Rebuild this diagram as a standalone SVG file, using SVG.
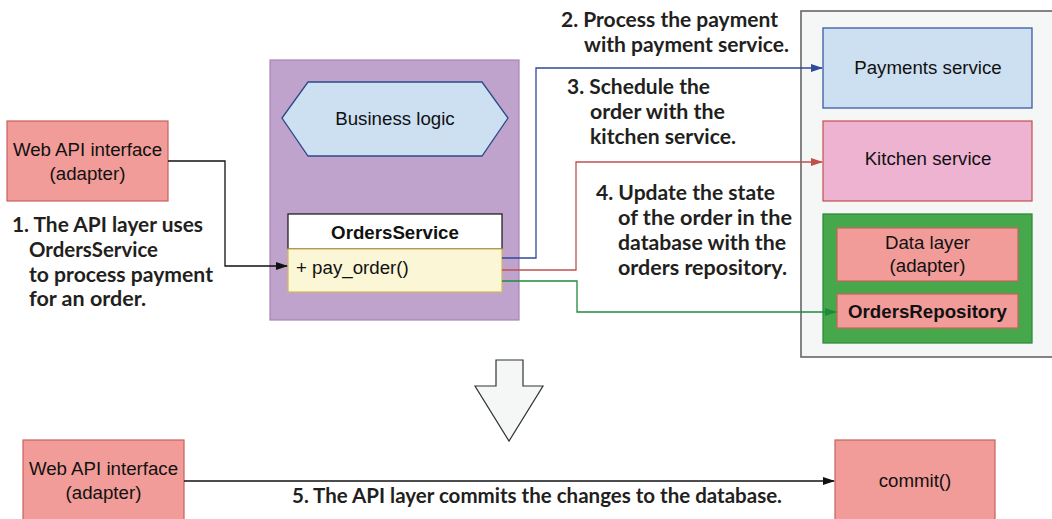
<svg xmlns="http://www.w3.org/2000/svg" width="1052" height="519" viewBox="0 0 1052 519">
<style>
.node{font-family:"Liberation Sans",Arial,sans-serif;font-size:18.7px;fill:#111;text-anchor:middle;dominant-baseline:central}
.b{font-weight:bold}
.lbl{font-family:Lato,"Liberation Sans",sans-serif;font-weight:bold;font-size:21px;fill:#231f20}
.red{fill:#f19c99;stroke:#c8625d;stroke-width:1.2}
.conn{fill:none;stroke-width:1.3}
</style>
<defs>
<marker id="ak" markerWidth="12" markerHeight="8" refX="11" refY="4" orient="auto" markerUnits="userSpaceOnUse"><path d="M0,0 L12,4 L0,8 Z" fill="#111"/></marker>
<marker id="ab" markerWidth="12" markerHeight="8" refX="11" refY="4" orient="auto" markerUnits="userSpaceOnUse"><path d="M0,0 L12,4 L0,8 Z" fill="#2e4a9a"/></marker>
<marker id="ar" markerWidth="12" markerHeight="8" refX="11" refY="4" orient="auto" markerUnits="userSpaceOnUse"><path d="M0,0 L12,4 L0,8 Z" fill="#c0504d"/></marker>
<marker id="ag" markerWidth="12" markerHeight="8" refX="11" refY="4" orient="auto" markerUnits="userSpaceOnUse"><path d="M0,0 L12,4 L0,8 Z" fill="#1f8a3c"/></marker>
</defs>

<g id="panel-right">
<rect x="801" y="11" width="262" height="346" fill="#f5f6f6" stroke="#666" stroke-width="1.6"/>
</g>

<g id="web-api-top">
<rect class="red" x="7" y="121" width="161" height="80"/>
<text class="node" x="87.5" y="149">Web API interface</text>
<text class="node" x="87.5" y="173">(adapter)</text>
</g>

<g id="business-container">
<rect x="270" y="60" width="249" height="260" fill="#c0a3cc" stroke="#a585b5" stroke-width="1.2"/>
</g>

<g id="business-logic">
<polygon points="282,118 308,82 482,82 508,118 482,156 308,156" fill="#cce0f1" stroke="#2e4a8a" stroke-width="1.3"/>
<text class="node" x="395" y="118">Business logic</text>
</g>

<g id="orders-service">
<rect x="288" y="214" width="214" height="35" fill="#fff" stroke="#111" stroke-width="1.2"/>
<text class="node b" x="395" y="232">OrdersService</text>
<rect x="288" y="249" width="214" height="43" fill="#faf6d6" stroke="#d6b656" stroke-width="1.2"/>
<text class="node" x="296" y="267" style="text-anchor:start">+ pay_order()</text>
</g>

<g id="payments-service">
<rect x="823" y="28" width="209" height="80" fill="#cce0f1" stroke="#3b5ba5" stroke-width="1.3"/>
<text class="node" x="928" y="67">Payments service</text>
</g>

<g id="kitchen-service">
<rect x="823" y="121" width="209" height="80" fill="#edb3d1" stroke="#c0504d" stroke-width="1.2"/>
<text class="node" x="928" y="158">Kitchen service</text>
</g>

<g id="data-container">
<rect x="823" y="214" width="209" height="129" fill="#47a84b" stroke="#2e8b3a" stroke-width="1.3"/>
</g>

<g id="data-layer">
<rect class="red" x="837" y="228" width="181" height="53"/>
<text class="node" x="927.5" y="242">Data layer</text>
<text class="node" x="927.5" y="265">(adapter)</text>
</g>

<g id="orders-repository">
<rect class="red" x="837" y="294" width="181" height="34"/>
<text class="node b" x="927.5" y="311">OrdersRepository</text>
</g>

<g id="transition-arrow">
<polygon points="496,360 523,360 523,386 543,386 509,441 475,386 496,386" fill="#f5f6f6" stroke="#333" stroke-width="1.2"/>
</g>

<g id="web-api-bottom">
<rect class="red" x="23" y="440" width="161" height="85"/>
<text class="node" x="103.5" y="468">Web API interface</text>
<text class="node" x="103.5" y="492">(adapter)</text>
</g>

<g id="commit">
<rect class="red" x="835" y="440" width="160" height="85"/>
<text class="node" x="915" y="480">commit()</text>
</g>

<g id="connectors">
<path class="conn" d="M168,161 H225 V266 H287" stroke="#111" marker-end="url(#ak)"/>
<path class="conn" d="M502,258 H536 V68 H822" stroke="#2e4a9a" marker-end="url(#ab)"/>
<path class="conn" d="M502,270 H576 V162 H822" stroke="#c0504d" marker-end="url(#ar)"/>
<path class="conn" d="M502,281 H577 V312 H836" stroke="#1f8a3c" marker-end="url(#ag)"/>
<path class="conn" d="M184,481 H834" stroke="#111" marker-end="url(#ak)"/>
</g>

<g id="labels">
<text class="lbl" x="12" y="232" textLength="191" lengthAdjust="spacingAndGlyphs">1. The API layer uses</text>
<text class="lbl" x="29" y="257" textLength="129" lengthAdjust="spacingAndGlyphs">OrdersService</text>
<text class="lbl" x="29" y="282" textLength="184" lengthAdjust="spacingAndGlyphs">to process payment</text>
<text class="lbl" x="29" y="306" textLength="117" lengthAdjust="spacingAndGlyphs">for an order.</text>

<text class="lbl" x="561" y="27" textLength="217" lengthAdjust="spacingAndGlyphs">2. Process the payment</text>
<text class="lbl" x="584" y="52" textLength="205" lengthAdjust="spacingAndGlyphs">with payment service.</text>

<text class="lbl" x="567" y="94" textLength="143" lengthAdjust="spacingAndGlyphs">3. Schedule the</text>
<text class="lbl" x="590" y="119" textLength="135" lengthAdjust="spacingAndGlyphs">order with the</text>
<text class="lbl" x="590" y="144" textLength="146" lengthAdjust="spacingAndGlyphs">kitchen service.</text>

<text class="lbl" x="596" y="200" textLength="179" lengthAdjust="spacingAndGlyphs">4. Update the state</text>
<text class="lbl" x="618" y="225" textLength="174" lengthAdjust="spacingAndGlyphs">of the order in the</text>
<text class="lbl" x="618" y="250" textLength="168" lengthAdjust="spacingAndGlyphs">database with the</text>
<text class="lbl" x="618" y="275" textLength="169" lengthAdjust="spacingAndGlyphs">orders repository.</text>

<text class="lbl" x="292" y="503" textLength="490" lengthAdjust="spacingAndGlyphs">5. The API layer commits the changes to the database.</text>
</g>
</svg>
